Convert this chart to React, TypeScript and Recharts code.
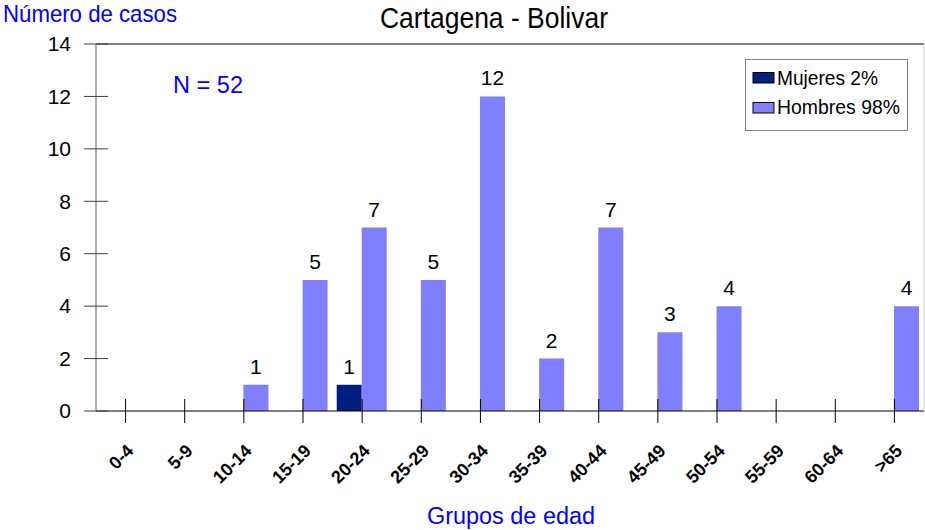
import React from 'react';
import { BarChart, Bar, XAxis, YAxis, LabelList, ReferenceLine, Legend } from 'recharts';

const categories = ['0-4', '5-9', '10-14', '15-19', '20-24', '25-29', '30-34', '35-39', '40-44', '45-49', '50-54', '55-59', '60-64', '>65'];
const mujeres = [0, 0, 0, 0, 1, 0, 0, 0, 0, 0, 0, 0, 0, 0];
const hombres = [0, 0, 1, 5, 7, 5, 12, 2, 7, 3, 4, 0, 0, 4];
const yTicks = [0, 2, 4, 6, 8, 10, 12, 14];
const seriesNames = ['Mujeres 2%', 'Hombres 98%'];

const data = categories.map((c, i) => ({ cat: c, mujeres: mujeres[i], hombres: hombres[i] }));

const FONT = 'Liberation Sans, Arial, sans-serif';
const NAVY = '#00207F';
const LIGHT = '#8080FF';
const BLUE = '#0000FF';

const XTick = (props: any) => {
  const { x, y, payload } = props;
  return (
    <g>
      <line x1={x} x2={x} y1={y - 12} y2={y + 12} stroke="#000" strokeWidth={1} />
      <text
        transform={`translate(${x + 9},${y + 41}) rotate(-45)`}
        textAnchor="end"
        fontFamily={FONT}
        fontWeight="bold"
        fontSize={18}
        fill="#000"
      >
        {payload.value}
      </text>
    </g>
  );
};

const YTick = (props: any) => {
  const { x, y, payload } = props;
  return (
    <g>
      <line x1={x - 12} x2={x + 12} y1={y} y2={y} stroke="#404040" strokeWidth={1} />
      <text x={x - 25} y={y} dy="0.35em" textAnchor="end" fontFamily={FONT} fontSize={21} fill="#000">
        {payload.value}
      </text>
    </g>
  );
};

const ValueLabel = (props: any) => {
  const { x, y, width, value } = props;
  if (!value) return null;
  return (
    <text x={x + width / 2} y={y - 11} textAnchor="middle" fontFamily={FONT} fontSize={21} fill="#000">
      {value}
    </text>
  );
};

const LegendBox = () => (
  <svg width={164} height={73} style={{ display: 'block' }}>
    <rect x={0.5} y={0.5} width={162} height={71} fill="#fff" stroke="#808080" />
    <rect x={8} y={13.5} width={21} height={10.5} fill={NAVY} stroke="#000" strokeWidth={1} />
    <text x={32} y={25.5} fontFamily={FONT} fontSize={20} fill="#000" textLength={101} lengthAdjust="spacingAndGlyphs">
      {seriesNames[0]}
    </text>
    <rect x={8} y={43.5} width={21} height={10.5} fill={LIGHT} stroke="#000" strokeWidth={1} />
    <text x={32} y={55} fontFamily={FONT} fontSize={20} fill="#000" textLength={123} lengthAdjust="spacingAndGlyphs">
      {seriesNames[1]}
    </text>
  </svg>
);

export default function App() {
  return (
    <div style={{ position: 'absolute', left: 0, top: 0, width: 925, height: 530, background: '#fff' }}>
      <BarChart
        width={925}
        height={530}
        data={data}
        margin={{ top: 44, right: 0, bottom: 0, left: 0 }}
        barCategoryGap="7%"
        barGap={0}
      >
        <XAxis
          dataKey="cat"
          height={119}
          interval={0}
          tickSize={0}
          tickMargin={0}
          tickLine={false}
          axisLine={{ stroke: '#000' }}
          tick={<XTick />}
        />
        <YAxis
          width={96}
          domain={[0, 14]}
          ticks={yTicks}
          interval={0}
          tickSize={0}
          tickMargin={0}
          tickLine={false}
          axisLine={{ stroke: '#606060' }}
          tick={<YTick />}
        />
        <YAxis
          yAxisId="r"
          orientation="right"
          width={1}
          domain={[0, 14]}
          tick={false}
          tickLine={false}
          axisLine={{ stroke: '#d0d0d0' }}
        />
        <ReferenceLine y={14} stroke="#000" strokeWidth={1} />
        <Legend
          layout="horizontal"
          verticalAlign="middle"
          align="center"
          content={<LegendBox />}
          wrapperStyle={{ position: 'absolute', left: 745, top: 59, width: 164, height: 73 }}
        />
        <Bar dataKey="mujeres" name={seriesNames[0]} fill={NAVY} isAnimationActive={false}>
          <LabelList dataKey="mujeres" content={<ValueLabel />} />
        </Bar>
        <Bar dataKey="hombres" name={seriesNames[1]} fill={LIGHT} isAnimationActive={false}>
          <LabelList dataKey="hombres" content={<ValueLabel />} />
        </Bar>
      </BarChart>
      <svg
        width={925}
        height={530}
        style={{ position: 'absolute', left: 0, top: 0, pointerEvents: 'none' }}
      >
        <text x={494} y={28} textAnchor="middle" fontFamily={FONT} fontSize={30} fill="#000" textLength={228} lengthAdjust="spacingAndGlyphs">
          Cartagena - Bolivar
        </text>
        <text x={3} y={22} fontFamily={FONT} fontSize={24} fill={BLUE} textLength={174} lengthAdjust="spacingAndGlyphs">
          Número de casos
        </text>
        <text x={427} y={524} fontFamily={FONT} fontSize={23} fill={BLUE} textLength={168} lengthAdjust="spacingAndGlyphs">
          Grupos de edad
        </text>
        <text x={173} y={93} fontFamily={FONT} fontSize={24} fill={BLUE} textLength={70} lengthAdjust="spacingAndGlyphs">
          N = 52
        </text>
      </svg>
    </div>
  );
}
